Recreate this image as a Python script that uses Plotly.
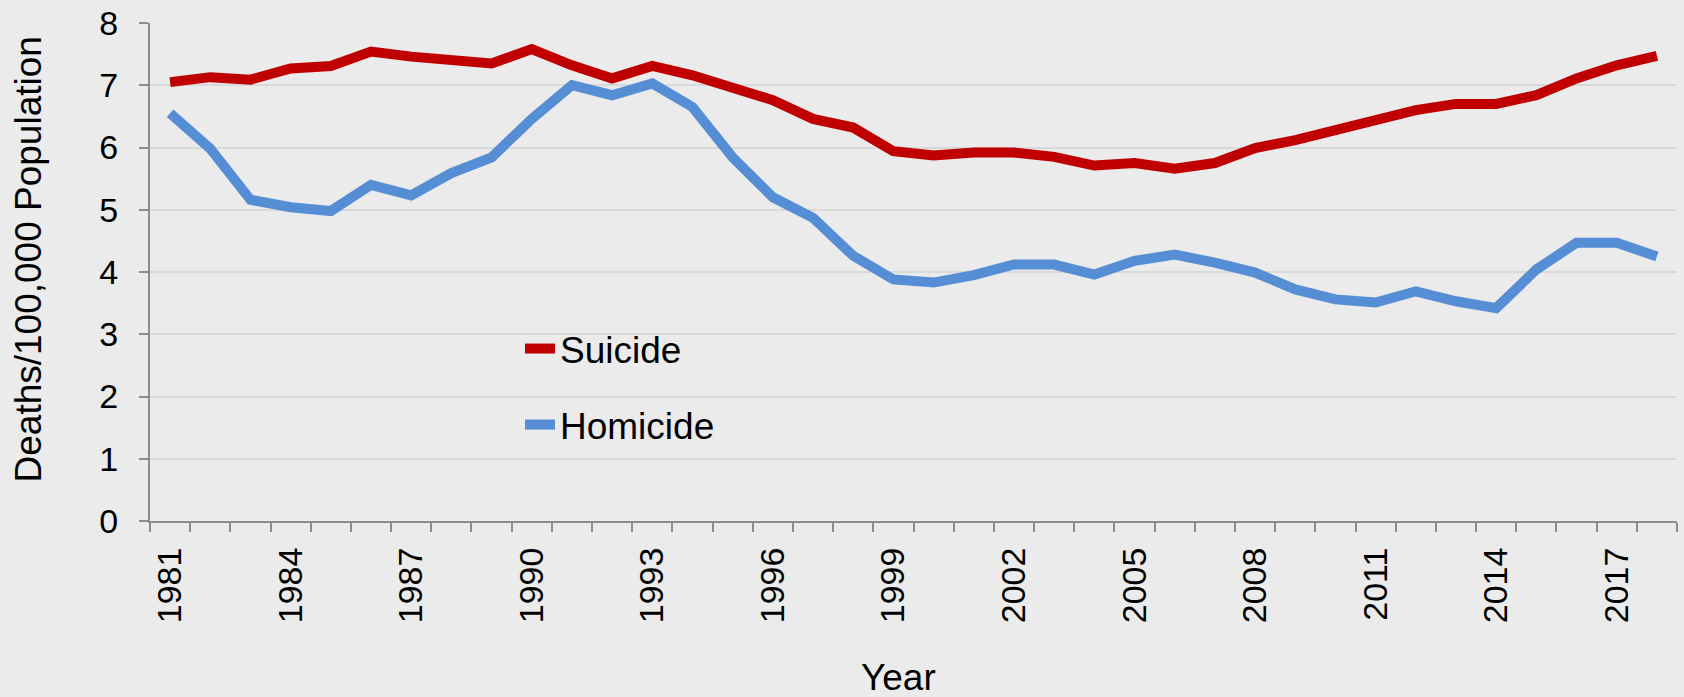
import plotly.graph_objects as go

years = list(range(1981, 2019))
suicide = [7.05, 7.13, 7.09, 7.27, 7.31, 7.54, 7.46, 7.42, 7.35, 7.58,
           7.32, 7.11, 7.31, 7.16, 6.98, 6.76, 6.46, 6.32, 5.94, 5.87,
           5.92, 5.92, 5.85, 5.71, 5.75, 5.66, 5.75, 5.99, 6.12, 6.28,
           6.44, 6.60, 6.70, 6.70, 6.84, 7.11, 7.32, 7.47]
homicide = [6.55, 5.98, 5.16, 5.04, 4.98, 5.40, 5.23, 5.59, 5.84, 6.46,
            7.00, 6.84, 7.03, 6.65, 5.84, 5.20, 4.87, 4.26, 3.88, 3.83,
            3.95, 4.12, 4.12, 3.96, 4.18, 4.28, 4.15, 3.99, 3.72, 3.56,
            3.51, 3.69, 3.53, 3.42, 4.04, 4.47, 4.47, 4.25]
label_years = list(range(1981, 2019, 3))
y_ticks = list(range(0, 9))

FONT = "Liberation Sans, Arial, Helvetica, sans-serif"
BG = "#EBEBEB"
AXIS = "#8C8C8C"
GRID = "#D9D9D9"

fig = go.Figure()
fig.add_trace(go.Scatter(x=years, y=suicide, mode="lines", name="Suicide", showlegend=True,
                         line=dict(color="#C00000", width=10), legend="legend"))
fig.add_trace(go.Scatter(x=years, y=homicide, mode="lines", name="Homicide", showlegend=True,
                         line=dict(color="#558ED5", width=10), legend="legend2"))

LEG_X = (520 - 150) / 1527

fig.update_layout(
    template="none",
    width=1684, height=697,
    showlegend=True,
    margin=dict(l=150, r=7, t=23, b=176, autoexpand=False),
    paper_bgcolor=BG, plot_bgcolor=BG,
    font=dict(family=FONT, color="#000000", size=34),
    legend=dict(x=LEG_X, y=(521 - 349) / 498, xanchor="left", yanchor="middle",
                bgcolor="rgba(0,0,0,0)", borderwidth=0, font=dict(size=37, family=FONT)),
    legend2=dict(x=LEG_X, y=(521 - 425) / 498, xanchor="left", yanchor="middle",
                 bgcolor="rgba(0,0,0,0)", borderwidth=0, font=dict(size=37, family=FONT)),
    xaxis=dict(
        range=[1980.5, 2018.5], showgrid=False, zeroline=False, automargin=False,
        showline=True, linecolor=AXIS, linewidth=2,
        tickmode="array", tickvals=label_years, ticktext=[str(y) for y in label_years],
        ticks="outside", ticklen=11, tickcolor="rgba(0,0,0,0)",
        tickangle=-90, tickfont=dict(size=34),
        minor=dict(tickmode="array", tickvals=[y - 0.5 for y in years] + [2018.5],
                   ticks="outside", ticklen=9, tickwidth=2, tickcolor=AXIS, showgrid=False),
    ),
    yaxis=dict(
        range=[0, 8], tickmode="array", tickvals=y_ticks, automargin=False,
        showgrid=True, gridcolor=GRID, gridwidth=2, zeroline=False,
        showline=True, linecolor=AXIS, linewidth=2,
        ticks="outside", ticklen=9, tickwidth=2, tickcolor=AXIS,
        ticklabelstandoff=14, tickfont=dict(size=34),
    ),
    annotations=[
        dict(text="Deaths/100,000 Population", xref="paper", yref="paper",
             x=(27.5 - 150) / 1527, y=(521 - 260) / 498, textangle=-90,
             showarrow=False, font=dict(size=37), xanchor="center", yanchor="middle"),
        dict(text="Year", xref="paper", yref="paper",
             x=(898 - 150) / 1527, y=(521 - 677) / 498,
             showarrow=False, font=dict(size=37), xanchor="center", yanchor="middle"),
    ],
)

post = ("document.body.style.margin='0';document.body.style.padding='0';"
        "document.body.style.overflow='hidden';document.body.style.background='#EBEBEB';")
fig.write_html("out.html", post_script=post, config={"displayModeBar": False})
